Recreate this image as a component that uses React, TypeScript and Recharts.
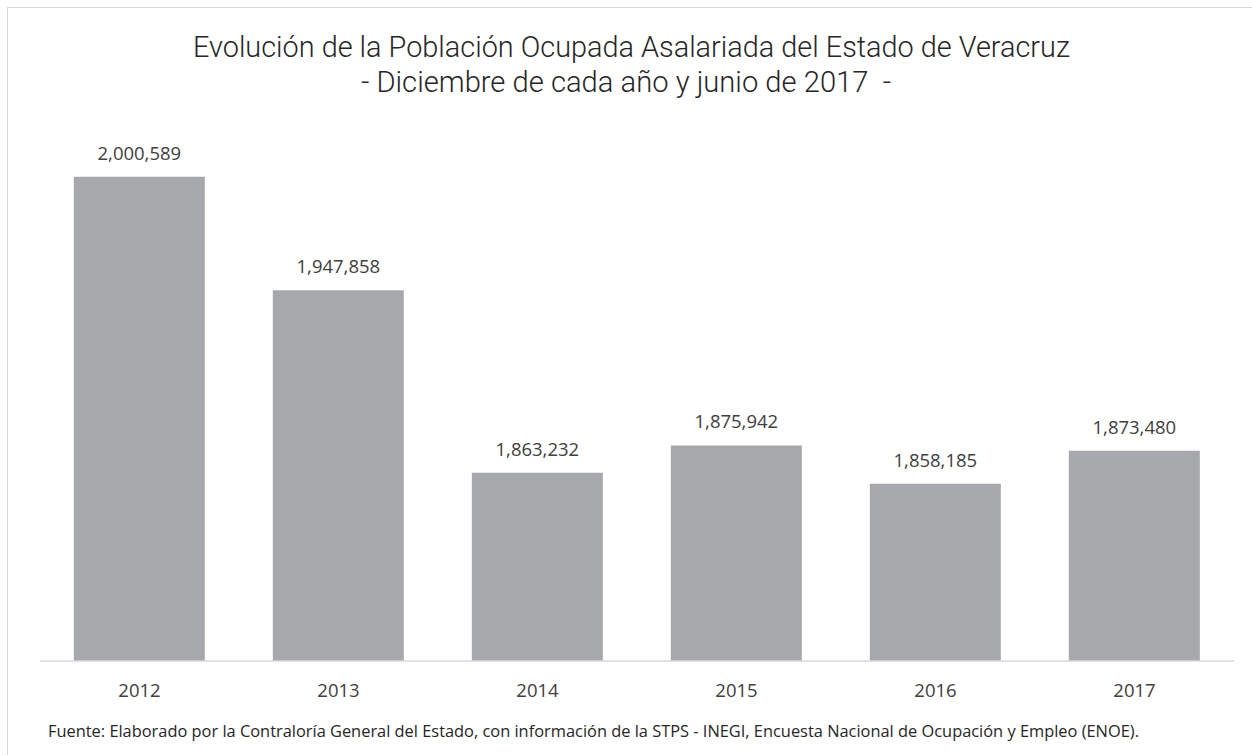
import React from "react";
import { BarChart, Bar, XAxis, YAxis, LabelList } from "recharts";

const years = ["2012", "2013", "2014", "2015", "2016", "2017"];
const ocupados = [2000589, 1947858, 1863232, 1875942, 1858185, 1873480];

const titleLine1 = "Evolución de la Población Ocupada Asalariada del Estado de Veracruz";
const titleLine2 = "- Diciembre de cada año y junio de 2017  -";
const fuente =
  "Fuente: Elaborado por la Contraloría General del Estado, con información de la STPS - INEGI, Encuesta Nacional de Ocupación y Empleo (ENOE).";

const data = years.map((year, i) => ({ year, value: ocupados[i] }));

const fmt = (v: number) => new Intl.NumberFormat("en-US").format(v);

const font = "'Open Sans', sans-serif";

export default function App() {
  return (
    <div
      style={{
        position: "absolute",
        left: 0,
        top: 0,
        width: 1252,
        height: 755,
        background: "#fff",
        overflow: "hidden",
      }}
    >
      {/* chart frame, cropped on the right and bottom */}
      <div
        style={{
          position: "absolute",
          left: 7,
          top: 7,
          width: 1260,
          height: 760,
          borderLeft: "1px solid #d9d9d9",
          borderTop: "1px solid #d9d9d9",
        }}
      />
      <svg width={1252} height={110} style={{ position: "absolute", left: 0, top: 0 }}>
        <text
          x={193}
          y={57}
          textLength={877}
          lengthAdjust="spacingAndGlyphs"
          fontFamily="Roboto, sans-serif"
          fontWeight={300}
          fontSize={30}
          fill="#262626"
        >
          {titleLine1}
        </text>
        <text
          x={361}
          y={92}
          textLength={530}
          lengthAdjust="spacingAndGlyphs"
          fontFamily="Roboto, sans-serif"
          fontWeight={300}
          fontSize={30}
          fill="#262626"
          style={{ whiteSpace: "pre" }}
        >
          {titleLine2}
        </text>
      </svg>
      <div style={{ position: "absolute", left: 0, top: 0 }}>
        <BarChart
          width={1252}
          height={755}
          data={data}
          margin={{ top: 124, right: 18, left: 40, bottom: 64 }}
          barCategoryGap="17%"
        >
          <XAxis
            dataKey="year"
            axisLine={{ stroke: "#d9d9d9", strokeWidth: 1.5 }}
            tickLine={false}
            tickMargin={17}
            tick={{ fill: "#404040", fontSize: 18.5, fontFamily: font }}
          />
          <YAxis hide domain={[1776000, 2025000]} allowDataOverflow />
          <Bar dataKey="value" fill="#a7a8ab" isAnimationActive={false}>
            <LabelList
              dataKey="value"
              position="top"
              offset={17}
              formatter={(v: number) => fmt(v)}
              fill="#404040"
              fontSize={18.5}
              fontFamily={font}
            />
          </Bar>
        </BarChart>
      </div>
      <div
        style={{
          position: "absolute",
          left: 48,
          top: 720,
          fontFamily: font,
          fontSize: 16.4,
          color: "#262626",
          whiteSpace: "nowrap",
          lineHeight: "22px",
        }}
      >
        {fuente}
      </div>
    </div>
  );
}
